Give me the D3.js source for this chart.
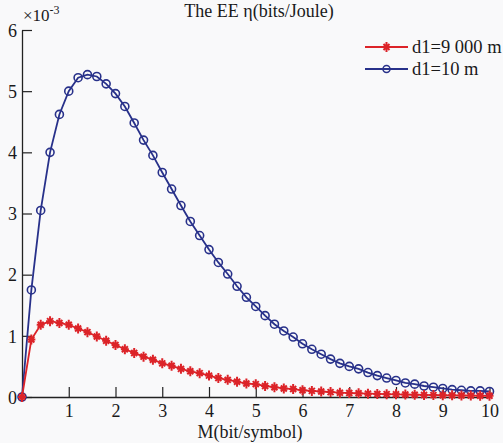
<!DOCTYPE html>
<html>
<head>
<meta charset="utf-8">
<script src="https://cdn.jsdelivr.net/npm/d3@7"></script>
<style>
  body { margin: 0; background: #f9f9fa; }
  svg { display: block; }
  text { font-family: "Liberation Serif", "DejaVu Serif", serif; fill: #1a1a1a; }
</style>
</head>
<body>
<svg id="viz"></svg>
<script>
var width = 503;
var height = 443;

// data (values in units of 1e-3 bits/Joule)
var mValues = d3.range(51).map(function(i) { return +(i * 0.2).toFixed(1); });
var near = [0, 1.75, 3.05, 4.0, 4.62, 5.0, 5.22, 5.27, 5.24, 5.12,
            4.96, 4.75, 4.48, 4.2, 3.95, 3.67, 3.4, 3.13, 2.87, 2.64,
            2.41, 2.2, 2.01, 1.81, 1.63, 1.48, 1.33, 1.19, 1.08, 0.98,
            0.87, 0.78, 0.7, 0.62, 0.55, 0.5, 0.46, 0.4, 0.35, 0.31,
            0.27, 0.23, 0.21, 0.18, 0.16, 0.14, 0.12, 0.11, 0.1, 0.1, 0.09];
var far = [0, 0.94, 1.18, 1.24, 1.21, 1.18, 1.12, 1.06, 0.99, 0.92,
           0.85, 0.78, 0.72, 0.66, 0.61, 0.55, 0.51, 0.46, 0.42, 0.39,
           0.35, 0.31, 0.28, 0.25, 0.22, 0.21, 0.18, 0.16, 0.14, 0.13,
           0.11, 0.1, 0.09, 0.08, 0.07, 0.065, 0.06, 0.055, 0.05, 0.047,
           0.044, 0.04, 0.037, 0.034, 0.031, 0.029, 0.027, 0.025, 0.023, 0.021, 0.02];
var xTicks = [1, 2, 3, 4, 5, 6, 7, 8, 9, 10];
var yTicks = [0, 1, 2, 3, 4, 5, 6];
var seriesNames = ["d1=9 000 m", "d1=10 m"];

var red = "#dc2328";
var blue = "#28318a";

var svg = d3.select("#viz")
    .attr("width", width)
    .attr("height", height);

svg.append("rect")
    .attr("width", width)
    .attr("height", height)
    .attr("fill", "#f9f9fa");

var x = d3.scaleLinear().domain([0, 10]).range([22, 489.5]);
var y = d3.scaleLinear().domain([0, 6]).range([397, 30]);

// axes, ticks point inward like matlab
var xAxis = d3.axisBottom(x)
    .tickValues(xTicks)
    .tickFormat(d3.format("d"))
    .tickSizeInner(-10)
    .tickSizeOuter(0)
    .tickPadding(6);
var yAxis = d3.axisLeft(y)
    .tickValues(yTicks)
    .tickFormat(d3.format("d"))
    .tickSizeInner(-10)
    .tickSizeOuter(0)
    .tickPadding(5);

var gx = svg.append("g")
    .attr("transform", "translate(0," + y(0) + ")")
    .call(xAxis);
var gy = svg.append("g")
    .attr("transform", "translate(" + x(0) + ",0)")
    .call(yAxis);

[gx, gy].forEach(function(g) {
    g.select(".domain").attr("stroke", "#222").attr("stroke-width", 1.3);
    g.selectAll(".tick line").attr("stroke", "#222").attr("stroke-width", 1.2);
    g.selectAll(".tick text")
        .attr("font-family", "Liberation Serif, serif")
        .attr("font-size", 18)
        .attr("fill", "#1a1a1a");
});
gx.selectAll(".tick text").attr("dy", "0.78em");
gy.selectAll(".tick text").attr("dy", "0.35em");

// exponent label
var expo = svg.append("text")
    .attr("x", 23)
    .attr("y", 21)
    .attr("font-size", 17);
expo.append("tspan").text("\u00d710");
expo.append("tspan").attr("dy", -7).attr("font-size", 12).text("-3");

// title and x label
svg.append("text")
    .attr("x", 259)
    .attr("y", 17)
    .attr("text-anchor", "middle")
    .attr("font-size", 18)
    .text("The EE \u03b7(bits/Joule)");

svg.append("text")
    .attr("x", 250)
    .attr("y", 438)
    .attr("text-anchor", "middle")
    .attr("font-size", 18)
    .text("M(bit/symbol)");

var line = d3.line()
    .x(function(d) { return x(d[0]); })
    .y(function(d) { return y(d[1]); });

var nearPts = mValues.map(function(m, i) { return [m, near[i]]; });
var farPts = mValues.map(function(m, i) { return [m, far[i]]; });

var starPath = "M0,-5V5M-4,0H4M-3,-3L3,3M-3,3L3,-3";

function drawSeries(pts, color, kind) {
    svg.append("path")
        .datum(pts)
        .attr("fill", "none")
        .attr("stroke", color)
        .attr("stroke-width", 1.8)
        .attr("d", line);
    var marks = svg.append("g");
    if (kind === "circle") {
        marks.selectAll("circle")
            .data(pts)
            .enter().append("circle")
            .attr("cx", function(d) { return x(d[0]); })
            .attr("cy", function(d) { return y(d[1]); })
            .attr("r", 4)
            .attr("fill", "none")
            .attr("stroke", color)
            .attr("stroke-width", 1.6);
    } else {
        marks.selectAll("path")
            .data(pts)
            .enter().append("path")
            .attr("transform", function(d) { return "translate(" + x(d[0]) + "," + y(d[1]) + ")"; })
            .attr("d", starPath)
            .attr("fill", "none")
            .attr("stroke", color)
            .attr("stroke-width", 2);
    }
}

drawSeries(nearPts, blue, "circle");
drawSeries(farPts, red, "star");

// legend
var legend = svg.append("g");
var legendRows = [
    { name: seriesNames[0], color: red, kind: "star", y: 47 },
    { name: seriesNames[1], color: blue, kind: "circle", y: 69 }
];
legendRows.forEach(function(r) {
    legend.append("line")
        .attr("x1", 365).attr("x2", 408)
        .attr("y1", r.y).attr("y2", r.y)
        .attr("stroke", r.color)
        .attr("stroke-width", 1.8);
    if (r.kind === "circle") {
        legend.append("circle")
            .attr("cx", 386.5).attr("cy", r.y).attr("r", 3.5)
            .attr("fill", "none").attr("stroke", r.color).attr("stroke-width", 1.5);
    } else {
        legend.append("path")
            .attr("transform", "translate(386.5," + r.y + ")")
            .attr("d", starPath)
            .attr("fill", "none").attr("stroke", r.color).attr("stroke-width", 2);
    }
    legend.append("text")
        .attr("x", 412)
        .attr("y", r.y)
        .attr("dy", "0.33em")
        .attr("font-size", 18.5)
        .text(r.name);
});
</script>
</body>
</html>
